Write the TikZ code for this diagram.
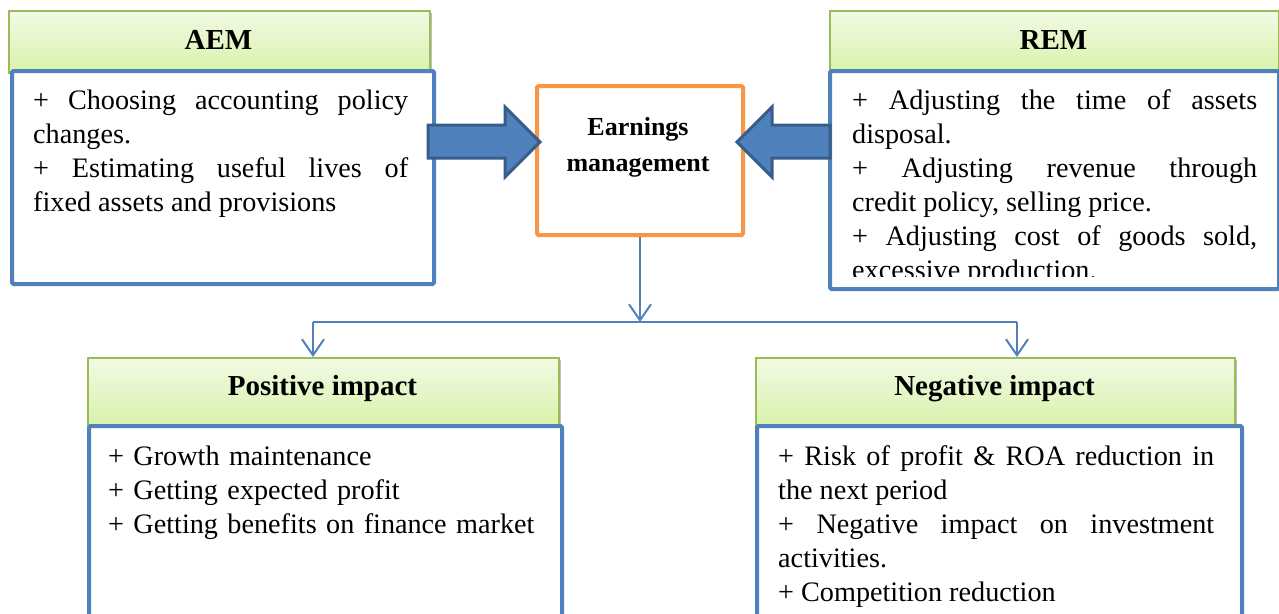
\documentclass[tikz,border=0pt]{standalone}
\usepackage{fontspec}
\setmainfont{Liberation Serif}
\usetikzlibrary{arrows.meta,shadows}

\definecolor{boxblue}{RGB}{79,129,189}
\definecolor{arrowedge}{RGB}{56,93,138}
\definecolor{emorange}{RGB}{247,150,70}
\definecolor{hdedge}{RGB}{155,187,89}
\definecolor{hdtop}{RGB}{241,250,228}
\definecolor{hdbot}{RGB}{216,242,170}

\newcommand\bodyfnt{\fontsize{28.2}{34}\selectfont\tolerance=10000\hbadness=10000\relax}
\newcommand\headfnt{\fontsize{29}{34}\selectfont\bfseries}
\newcommand\emfnt{\fontsize{26}{36}\selectfont\bfseries}

\tikzset{
  header/.style={draw=hdedge, line width=1.5pt, top color=hdtop, bottom color=hdbot,
    inner sep=0pt, anchor=north west,
    drop shadow={shadow xshift=2pt, shadow yshift=-2pt, opacity=0.25, fill=black}},
  headtext/.style={font=\headfnt, anchor=base, inner sep=0pt},
  bodybox/.style={draw=boxblue, fill=white, line width=4pt, rounded corners=1.5pt,
    inner sep=0pt, anchor=north west},
  bodytext/.style={font=\bodyfnt, anchor=base west, inner sep=0pt, text width=#1, align=justify},
  listtext/.style={font=\bodyfnt, anchor=base west, inner sep=0pt, text width=#1, align=left},
  embox/.style={draw=emorange, fill=white, line width=4pt, rounded corners=1.5pt,
    inner sep=0pt, anchor=north west},
  emtext/.style={font=\emfnt, anchor=base, inner sep=0pt, text width=200pt, align=center},
  blockarrow/.style={draw=arrowedge, fill=boxblue, line width=3pt, line join=miter},
  link/.style={draw=boxblue, line width=2pt},
  linktip/.style={-{Straight Barb[length=16pt,width=22pt]}},
}

\begin{document}
\begin{tikzpicture}[x=1pt, y=-1pt]
  \clip (0,0) rectangle (1279,613);
  \fill[white] (0,0) rectangle (1279,613);

  % green title bars
  \node[header, minimum width=421pt, minimum height=62pt] (aemh) at (8,10) {};
  \node[header, minimum width=449pt, minimum height=62pt] (remh) at (829,10) {};
  \node[header, minimum width=471pt, minimum height=70pt] (posh) at (87,357) {};
  \node[header, minimum width=479pt, minimum height=70pt] (negh) at (755,357) {};

  % framed content boxes
  \node[bodybox, minimum width=422pt, minimum height=213pt] (aemb) at (10,69) {};
  \node[bodybox, minimum width=449pt, minimum height=218pt] (remb) at (828,69) {};
  \node[bodybox, minimum width=473pt, minimum height=200pt] (posb) at (87,424) {};
  \node[bodybox, minimum width=485pt, minimum height=200pt] (negb) at (755,424) {};

  % titles
  \node[headtext] (aemt) at (218.5,49) {AEM};
  \node[headtext] (remt) at (1053.5,49) {REM};
  \node[headtext] (post) at (322.5,395) {Positive impact};
  \node[headtext] (negt) at (994.5,395) {Negative impact};

  % box contents
  \node[bodytext=375pt] (aemx) at (33,109)
    {+ Choosing accounting policy\linebreak changes.\par
     + Estimating useful lives of\linebreak fixed assets and provisions};
  \begin{scope}
    \clip (830,71) rectangle (1276,276);
    \node[bodytext=405pt] (remx) at (852,109)
      {+ Adjusting the time of assets\linebreak disposal.\par
       + Adjusting revenue through\linebreak credit policy, selling price.\par
       + Adjusting cost of goods sold,\linebreak excessive production.};
  \end{scope}
  \node[listtext=440pt] (posx) at (108,465)
    {+ Growth maintenance\\
     + Getting expected profit\\
     + Getting benefits on finance market};
  \node[bodytext=436pt] (negx) at (778,465)
    {+ Risk of profit \& ROA reduction in\linebreak the next period\par
     + Negative impact on investment\linebreak activities.\par
     + Competition reduction};

  % central box
  \node[embox, minimum width=206pt, minimum height=149pt] (em) at (535,84) {};
  \node[emtext] (emt) at (638,135) {Earnings\\management};

  % block arrows into the central box
  \draw[blockarrow] (428,125) -- (505,125) -- (505,107) -- (540,142)
    -- (505,177) -- (505,158) -- (428,158) -- cycle;
  \draw[blockarrow] (830,125) -- (772,125) -- (772,107) -- (737,142)
    -- (772,177) -- (772,158) -- (830,158) -- cycle;

  % split connector
  \coordinate (hl) at (0,322);
  \coordinate (pl) at (313,322);
  \coordinate (pr) at (1017,322);
  \draw[link, linktip] (em.south) -- (em.south |- hl);
  \draw[link] (pl) -- (pr);
  \draw[link, linktip] (pl) -- (pl |- posh.north);
  \draw[link, linktip] (pr) -- (pr |- negh.north);
\end{tikzpicture}
\end{document}
